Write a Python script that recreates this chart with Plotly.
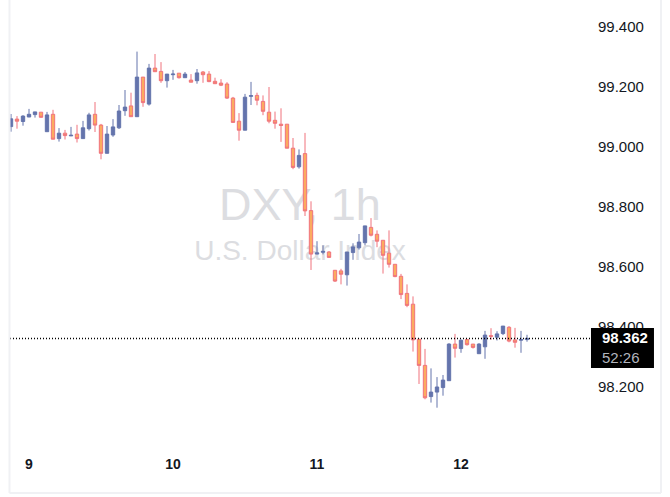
import pandas as pd
import plotly.graph_objects as go

start_time = "2025-06-08 21:00"
n_bars = 87
times = pd.date_range(start_time, periods=n_bars, freq="h")

opens = [99.068, 99.093, 99.085, 99.100, 99.108, 99.116, 99.051, 99.109, 99.028, 99.046,
         99.037, 99.043, 99.028, 99.061, 99.109, 99.073, 98.979, 99.040, 99.064, 99.121,
         99.137, 99.101, 99.233, 99.143, 99.263, 99.252, 99.221, 99.241, 99.246, 99.231,
         99.223, 99.221, 99.250, 99.243, 99.219, 99.213, 99.210, 99.163, 99.086, 99.056,
         99.169, 99.172, 99.152, 99.116, 99.089, 99.076, 99.076, 98.996, 98.934, 98.978,
         98.788, 98.643, 98.649, 98.650, 98.589, 98.587, 98.574, 98.648, 98.664, 98.681,
         98.732, 98.709, 98.689, 98.646, 98.609, 98.569, 98.512, 98.476, 98.359, 98.272,
         98.168, 98.183, 98.198, 98.221, 98.343, 98.328, 98.358, 98.343, 98.311, 98.334,
         98.371, 98.366, 98.378, 98.399, 98.357, 98.356, 98.358]
highs = [99.110, 99.103, 99.106, 99.127, 99.117, 99.116, 99.117, 99.124, 99.063, 99.057,
         99.067, 99.074, 99.087, 99.114, 99.150, 99.077, 99.070, 99.093, 99.140, 99.190,
         99.181, 99.318, 99.233, 99.277, 99.310, 99.283, 99.243, 99.257, 99.246, 99.250,
         99.243, 99.260, 99.253, 99.253, 99.231, 99.226, 99.216, 99.167, 99.113, 99.177,
         99.217, 99.181, 99.172, 99.200, 99.118, 99.129, 99.076, 99.030, 98.992, 99.047,
         98.819, 98.686, 98.672, 98.653, 98.589, 98.594, 98.650, 98.679, 98.710, 98.737,
         98.763, 98.722, 98.689, 98.722, 98.609, 98.577, 98.542, 98.502, 98.359, 98.327,
         98.262, 98.233, 98.240, 98.346, 98.377, 98.358, 98.358, 98.343, 98.346, 98.387,
         98.396, 98.386, 98.403, 98.403, 98.397, 98.387, 98.374]
lows = [99.051, 99.061, 99.071, 99.100, 99.098, 99.098, 99.051, 99.026, 99.018, 99.025,
        99.037, 99.015, 99.028, 99.055, 99.050, 98.959, 98.979, 99.034, 99.060, 99.104,
        99.101, 99.101, 99.134, 99.138, 99.251, 99.214, 99.198, 99.224, 99.228, 99.231,
        99.216, 99.211, 99.214, 99.216, 99.211, 99.203, 99.160, 99.082, 99.021, 99.056,
        99.140, 99.139, 99.106, 99.079, 99.061, 99.017, 98.996, 98.926, 98.928, 98.770,
        98.590, 98.643, 98.642, 98.632, 98.550, 98.542, 98.538, 98.624, 98.658, 98.672,
        98.702, 98.666, 98.578, 98.598, 98.566, 98.493, 98.466, 98.318, 98.210, 98.159,
        98.148, 98.131, 98.171, 98.221, 98.298, 98.314, 98.338, 98.328, 98.311, 98.294,
        98.357, 98.355, 98.373, 98.349, 98.331, 98.314, 98.351]
closes = [99.094, 99.086, 99.103, 99.109, 99.117, 99.099, 99.107, 99.026, 99.046, 99.038,
          99.039, 99.028, 99.064, 99.107, 99.073, 98.979, 99.043, 99.067, 99.120, 99.133,
          99.101, 99.233, 99.148, 99.263, 99.251, 99.221, 99.243, 99.243, 99.231, 99.243,
          99.216, 99.247, 99.241, 99.218, 99.211, 99.206, 99.163, 99.082, 99.056, 99.166,
          99.171, 99.156, 99.119, 99.086, 99.079, 99.072, 98.996, 98.932, 98.972, 98.787,
          98.643, 98.647, 98.652, 98.632, 98.553, 98.576, 98.650, 98.667, 98.683, 98.737,
          98.706, 98.686, 98.639, 98.609, 98.568, 98.508, 98.472, 98.357, 98.272, 98.164,
          98.183, 98.200, 98.223, 98.343, 98.329, 98.356, 98.341, 98.332, 98.343, 98.373,
          98.369, 98.377, 98.403, 98.353, 98.349, 98.358, 98.362]

last_price = 98.362
countdown = "52:26"
symbol_text = "DXY, 1h"
description_text = "U.S. Dollar Index"
x_range = ["2025-06-08 20:50", "2025-06-12 21:30"]
y_range = [98.0233, 99.49]

UP = "#6474ac"
DOWN_FILL = "#fbab5f"
DOWN_LINE = "#f0737d"

fig = go.Figure()
fig.add_trace(go.Candlestick(
    x=times, open=opens, high=highs, low=lows, close=closes,
    increasing=dict(fillcolor=UP, line=dict(color=UP, width=1)),
    decreasing=dict(fillcolor=DOWN_FILL, line=dict(color=DOWN_LINE, width=1)),
    whiskerwidth=0, showlegend=False, hoverinfo="skip",
))

# watermark (below candles)
fig.add_shape(type="line", xref="paper", yref="paper", x0=0.3, x1=0.7, y0=0.545, y1=0.545,
              line=dict(width=0, color="rgba(0,0,0,0)"), layer="below",
              label=dict(text=symbol_text, font=dict(size=45, color="#dcdde1", family="Liberation Sans, Arial"),
                         textposition="middle", yanchor="middle"))
fig.add_shape(type="line", xref="paper", yref="paper", x0=0.3, x1=0.7, y0=0.4386, y1=0.4386,
              line=dict(width=0, color="rgba(0,0,0,0)"), layer="below",
              label=dict(text=description_text, font=dict(size=28, color="#dcdde1", family="Liberation Sans, Arial"),
                         textposition="middle", yanchor="middle"))

# last price dotted line
fig.add_shape(type="line", xref="paper", yref="y", x0=0, x1=1, y0=last_price, y1=last_price,
              line=dict(color="#000000", width=1.5, dash="1px,2px"), layer="above")

# container border
fig.add_shape(type="line", xref="paper", yref="paper", x0=-0.0009, x1=-0.0009, y0=1.1, y1=-0.1205,
              line=dict(color="#f0f1f4", width=2))
fig.add_shape(type="line", xref="paper", yref="paper", x0=1.1224, x1=1.1224, y0=1.1, y1=-0.1205,
              line=dict(color="#f0f1f4", width=2))
fig.add_shape(type="line", xref="paper", yref="paper", x0=-0.0009, x1=1.1224, y0=-0.1205, y1=-0.1205,
              line=dict(color="#f0f1f4", width=2))

# last price label: black box + text
fig.add_shape(type="rect", xref="paper", yref="y", x0=1.0017, x1=1.1103, y0=98.2633, y1=98.3967,
              line=dict(width=0), fillcolor="#000000", layer="above")
fig.add_annotation(
    xref="paper", yref="y", x=1.019, y=98.3967, xanchor="left", yanchor="top",
    text="<b>%.3f</b><br><span style='color:#b2b5be'>%s</span>" % (last_price, countdown),
    showarrow=False, align="left", borderpad=0,
    font=dict(color="#ffffff", size=15, family="Liberation Sans, Arial"),
)

fig.update_layout(
    width=670, height=497,
    margin=dict(l=10, r=80, t=0, b=57),
    paper_bgcolor="#ffffff", plot_bgcolor="#ffffff",
    boxgap=0.2,
    font=dict(family="Liberation Sans, Arial", color="#131722"),
    xaxis=dict(type="date", range=x_range, rangeslider=dict(visible=False),
               showgrid=False, zeroline=False, showline=False,
               tickformat="%-d", dtick=86400000, tick0="2025-06-09",
               ticks="", ticklabelstandoff=14,
               tickfont=dict(size=14, color="#131722", weight="bold")),
    yaxis=dict(side="right", range=y_range, dtick=0.2, tick0=99.4, tickformat=".3f",
               showgrid=False, zeroline=False, showline=False, ticks="",
               ticklabelstandoff=7,
               tickfont=dict(size=15, color="#131722")),
)

fig.write_html("out.html")
